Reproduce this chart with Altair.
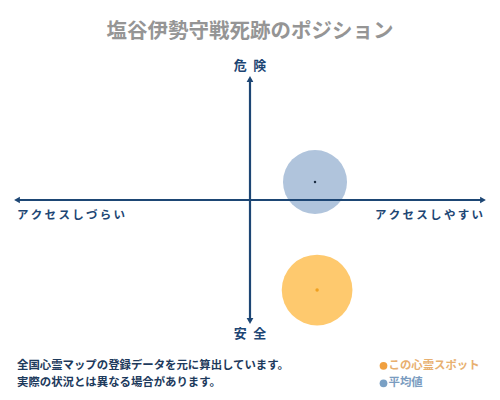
import altair as alt
import pandas as pd

# ---- data ----
title_text = ["塩谷伊勢守戦死跡のポジション"]
top_label = ["危\u2002険"]
bottom_label = ["安\u2002全"]
left_label = ["ア\u2009ク\u2009セ\u2009ス\u2009し\u2009づ\u2009ら\u2009い"]
right_label = ["ア\u2009ク\u2009セ\u2009ス\u2009し\u2009や\u2009す\u2009い"]
footer_lines = ["全国心霊マップの登録データを元に算出しています。",
                "実際の状況とは異なる場合があります。"]
legend_names = ["この心霊スポット", "平均値"]

series_names = ["この心霊スポット", "平均値"]
series_x = [28.8, 27.9]
series_y = [-74.4, 14.9]
series_size = [5000, 4100]

axis_min, axis_max = -100, 100

# ---- layout helpers ----
XS = alt.Scale(domain=[axis_min, axis_max], range=[9, 475])
YS = alt.Scale(domain=[axis_min, axis_max], range=[313, 71])
NAVY = "#1d4674"

def X(f="x"):
    return alt.X(f"{f}:Q", scale=XS, axis=None)

def Y(f="y"):
    return alt.Y(f"{f}:Q", scale=YS, axis=None)

# circles
circ_df = pd.DataFrame({"name": series_names, "x": series_x, "y": series_y,
                        "size": series_size,
                        "fill": ["#fec96e", "#b0c4dc"],
                        "dot": ["#f0a020", "#1d2f44"],
                        "dsize": [12, 6]})
circles = alt.Chart(circ_df).mark_circle(opacity=1).encode(
    x=X(), y=Y(),
    size=alt.Size("size:Q", scale=None, legend=None),
    color=alt.Color("fill:N", scale=None, legend=None),
)
dots = alt.Chart(circ_df).mark_circle(opacity=1).encode(
    x=X(), y=Y(), color=alt.Color("dot:N", scale=None, legend=None),
    size=alt.Size("dsize:Q", scale=None, legend=None),
)

# axes lines
h_df = pd.DataFrame({"x": [axis_min], "x2": [axis_max], "y": [0]})
v_df = pd.DataFrame({"y": [axis_min], "y2": [axis_max], "x": [0]})
hline = alt.Chart(h_df).mark_rule(color=NAVY, strokeWidth=2.2).encode(
    x=X(), x2="x2:Q", y=Y())
vline = alt.Chart(v_df).mark_rule(color=NAVY, strokeWidth=2.2).encode(
    y=Y(), y2="y2:Q", x=X())

arr_df = pd.DataFrame({
    "x": [axis_min, axis_max, 0, 0],
    "y": [0, 0, axis_max, axis_min],
    "shape": ["triangle-left", "triangle-right", "triangle-up", "triangle-down"],
})
arrows = alt.Chart(arr_df).mark_point(filled=True, opacity=1, color=NAVY, size=45).encode(
    x=X(), y=Y(), shape=alt.Shape("shape:N", scale=None, legend=None))

def text_layer(texts, xs, ys, **kw):
    df = pd.DataFrame({"t": texts, "x": xs, "y": ys})
    return alt.Chart(df).mark_text(**kw).encode(x=X(), y=Y(), text="t:N")

FONT = "Noto Sans CJK JP"
title = text_layer(title_text, [0], [139], font=FONT, fontSize=20.5, fontWeight="bold",
                   color="#959595", baseline="middle", align="center")
top = text_layer(top_label, [0], [110.5], font=FONT, fontSize=13, fontWeight="bold",
                 color=NAVY, baseline="middle", align="center")
bottom = text_layer(bottom_label, [0], [-111], font=FONT, fontSize=13, fontWeight="bold",
                    color=NAVY, baseline="middle", align="center")
left = text_layer(left_label, [axis_min], [-13], font=FONT, fontSize=11.5, fontWeight="bold",
                  color=NAVY, baseline="middle", align="left")
right = text_layer(right_label, [axis_max], [-13], font=FONT, fontSize=11.5, fontWeight="bold",
                   color=NAVY, baseline="middle", align="right")
footer = text_layer(footer_lines, [axis_min, axis_min], [-137, -151.5], font=FONT,
                    fontSize=11.4, fontWeight="bold", color="#1d3a5c",
                    baseline="middle", align="left")

leg_df = pd.DataFrame({"t": legend_names, "x": [57.3, 57.3], "y": [-137, -151.5],
                       "c": ["#f0a040", "#7aa0c4"], "tc": ["#e8b070", "#7a9cc0"]})
leg_dots = alt.Chart(leg_df).mark_circle(size=60, opacity=1).encode(
    x=X(), y=Y(), color=alt.Color("c:N", scale=None, legend=None))
leg_text = alt.Chart(leg_df).mark_text(font=FONT, fontSize=11.4, fontWeight="bold",
                                       align="left", baseline="middle", dx=5).encode(
    x=X(), y=Y(), text="t:N", color=alt.Color("tc:N", scale=None, legend=None))

chart = alt.layer(circles, hline, vline, arrows, dots, title, top, bottom, left, right,
                  footer, leg_dots, leg_text).properties(
    width=484, height=384, padding=0,
    autosize=alt.AutoSizeParams(type="none"),
).configure(background="white", view=alt.ViewConfig(stroke="transparent", strokeWidth=0))

chart.save("out.html", embed_options={"renderer": "svg", "actions": False})
